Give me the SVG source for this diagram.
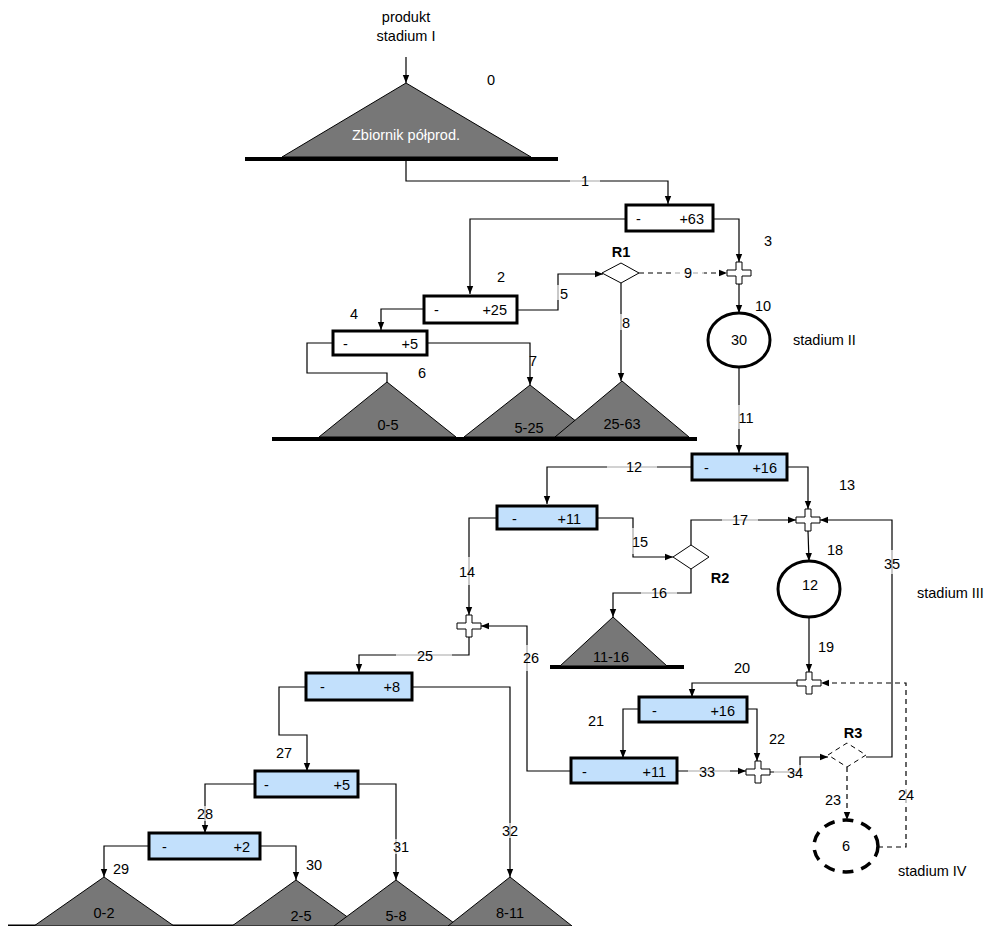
<svg xmlns="http://www.w3.org/2000/svg" width="986" height="926" viewBox="0 0 986 926">
<style>
text{font-family:"Liberation Sans",Arial,sans-serif;font-size:14.5px;fill:#000}
.c{text-anchor:middle}
.e{text-anchor:end}
.b{font-weight:bold}
.w{fill:#fff}
.ln{fill:none;stroke:#000;stroke-width:1.2}
.d{stroke-dasharray:5,4}
.tri{fill:#777;stroke:#000;stroke-width:1}
.base{stroke:#000;stroke-width:4}
.box{fill:#fff;stroke:#000;stroke-width:3}
.bb{fill:#c2e0fc;stroke:#000;stroke-width:3}
.pl{fill:#fff;stroke:#000;stroke-width:1}
.lb{fill:#fff;fill-opacity:0.65}
.st{fill:#fff;stroke:#000;stroke-width:3}
</style>
<defs>
<marker id="a" viewBox="0 0 10 10" refX="10" refY="5" markerWidth="8" markerHeight="8" markerUnits="userSpaceOnUse" orient="auto"><path d="M0,1 L10,5 L0,9 z" fill="#000"/></marker>
<path id="plus" d="M-3,-11 H3 V-3 H12 V3 H3 V11 H-3 V3 H-12 V-3 H-3 Z"/>
</defs>

<!-- base lines -->
<line class="base" x1="245" y1="159" x2="558" y2="159"/>
<line class="base" x1="272" y1="439" x2="697" y2="439"/>
<line class="base" x1="550" y1="667" x2="684" y2="667"/>
<line x1="8" y1="925.5" x2="565" y2="925.5" stroke="#000" stroke-width="2"/>

<g id="connectors">
<path class="ln" d="M406,57 V83" marker-end="url(#a)"/>
<path class="ln" d="M406,161 V181 H668 V204" marker-end="url(#a)"/>
<path class="ln" d="M626,219 H470 V294" marker-end="url(#a)"/>
<path class="ln" d="M713,219 H739 V262" marker-end="url(#a)"/>
<path class="ln" d="M424,309 H381 V330" marker-end="url(#a)"/>
<path class="ln" d="M517,310 H558 V274 H603" marker-end="url(#a)"/>
<path class="ln" d="M333,343 H307 V373 H387 V382"/>
<path class="ln" d="M427,343 H530 V385" marker-end="url(#a)"/>
<path class="ln" d="M621,283 V381" marker-end="url(#a)"/>
<path class="ln d" d="M639,273 H727" marker-end="url(#a)"/>
<path class="ln" d="M739,284 V313" marker-end="url(#a)"/>
<path class="ln" d="M739,367 V453" marker-end="url(#a)"/>
<path class="ln" d="M692,467 H547 V504" marker-end="url(#a)"/>
<path class="ln" d="M787,467 H808 V509" marker-end="url(#a)"/>
<path class="ln" d="M497,518 H469 V615" marker-end="url(#a)"/>
<path class="ln" d="M597,518 H633 V557 H673" marker-end="url(#a)"/>
<path class="ln" d="M691,569 V593 H613 V617" marker-end="url(#a)"/>
<path class="ln" d="M691,545 V520 H796" marker-end="url(#a)"/>
<path class="ln" d="M808,531 L809,561" marker-end="url(#a)"/>
<path class="ln" d="M809,617 V672" marker-end="url(#a)"/>
<path class="ln" d="M797,683 H692 V697" marker-end="url(#a)"/>
<path class="ln" d="M639,709 H623 V758" marker-end="url(#a)"/>
<path class="ln" d="M747,709 H757 V761" marker-end="url(#a)"/>
<path class="ln d" d="M847,767 V820" marker-end="url(#a)"/>
<path class="ln d" d="M878,847 H906 V683 H821" marker-end="url(#a)"/>
<path class="ln" d="M469,637 V655 H359 V672" marker-end="url(#a)"/>
<path class="ln" d="M571,771 H527 V626 H481" marker-end="url(#a)"/>
<path class="ln" d="M306,687 H279 V735 H307 V771" marker-end="url(#a)"/>
<path class="ln" d="M255,784 H205 V833" marker-end="url(#a)"/>
<path class="ln" d="M149,846 H104 V877" marker-end="url(#a)"/>
<path class="ln" d="M260,846 H296 V880" marker-end="url(#a)"/>
<path class="ln" d="M358,784 H396 V880" marker-end="url(#a)"/>
<path class="ln" d="M412,687 H510 V877" marker-end="url(#a)"/>
<path class="ln" d="M677,771 H746" marker-end="url(#a)"/>
<path class="ln" d="M770,772 H800 V757 H828" marker-end="url(#a)"/>
<path class="ln" d="M866,757 H892 V520 H820" marker-end="url(#a)"/>

<!-- labels -->
<rect class="lb" x="570" y="174" width="30" height="15"/><text class="c" x="585" y="186">1</text>
<text class="c" x="501" y="282">2</text>
<text class="c" x="768" y="246">3</text>
<text class="c" x="354" y="319">4</text>
<rect class="lb" x="557" y="285" width="12" height="15"/><text class="c" x="564" y="299">5</text>
<text class="c" x="422" y="378">6</text>
<text class="c" x="533" y="366">7</text>
<rect class="lb" x="620" y="314" width="12" height="16"/><text class="c" x="626" y="328">8</text>
<rect class="lb" x="672" y="266" width="32" height="15"/><text class="c" x="688" y="278">9</text>
<text class="c" x="763" y="311">10</text>
<rect class="lb" x="736" y="405" width="18" height="24"/><text class="c" x="746" y="423">11</text>
<rect class="lb" x="607" y="460" width="50" height="15"/><text class="c" x="634" y="472">12</text>
<text class="c" x="847" y="490">13</text>
<rect class="lb" x="458" y="557" width="20" height="28"/><text class="c" x="467" y="577">14</text>
<rect class="lb" x="630" y="528" width="18" height="26"/><text class="c" x="640" y="547">15</text>
<rect class="lb" x="641" y="586" width="36" height="15"/><text class="c" x="659" y="598">16</text>
<rect class="lb" x="722" y="513" width="36" height="15"/><text class="c" x="740" y="525">17</text>
<text class="c" x="835" y="555">18</text>
<text class="c" x="826" y="652">19</text>
<text class="c" x="742" y="673">20</text>
<text class="c" x="596" y="726">21</text>
<text class="c" x="777" y="744">22</text>
<text class="c" x="833" y="805">23</text>
<rect class="lb" x="897" y="788" width="18" height="15"/><text class="c" x="906" y="800">24</text>
<rect class="lb" x="396" y="648" width="56" height="15"/><text class="c" x="425" y="661">25</text>
<rect class="lb" x="519" y="645" width="18" height="26"/><text class="c" x="531" y="663">26</text>
<text class="c" x="284" y="758">27</text>
<rect class="lb" x="197" y="806" width="16" height="15"/><text class="c" x="205" y="819">28</text>
<text class="c" x="121" y="874">29</text>
<text class="c" x="314" y="870">30</text>
<rect class="lb" x="393" y="839" width="16" height="15"/><text class="c" x="401" y="852">31</text>
<rect class="lb" x="502" y="823" width="16" height="15"/><text class="c" x="510" y="836">32</text>
<rect class="lb" x="688" y="764" width="42" height="15"/><text class="c" x="707" y="777">33</text>
<rect class="lb" x="774" y="765" width="32" height="15"/><text class="c" x="795" y="778">34</text>
<rect class="lb" x="883" y="550" width="18" height="24"/><text class="c" x="892" y="569">35</text>
</g>

<!-- input text -->
<g id="input">
<text class="c" x="406" y="22">produkt</text>
<text class="c" x="406" y="41">stadium I</text>
<text class="c" x="491" y="85">0</text>
</g>

<g id="tank"><polygon class="tri" points="406,83 282,157 531,157"/><text class="c w" x="406" y="140">Zbiornik półprod.</text></g>

<g id="box63"><rect class="box" x="626" y="205" width="87" height="26"/><text x="636" y="224">-</text><text class="e" x="704" y="224">+63</text></g>
<g id="box25"><rect class="box" x="424" y="296" width="93" height="27"/><text x="434" y="315">-</text><text class="e" x="507" y="315">+25</text></g>
<g id="box5a"><rect class="box" x="333" y="331" width="94" height="24"/><text x="343" y="349">-</text><text class="e" x="418" y="349">+5</text></g>

<g id="R1"><polygon class="pl" points="602,273 621,263 639,273 621,283"/><text class="c b" x="621" y="257">R1</text></g>
<g id="plus1"><use href="#plus" class="pl" x="739" y="273"/></g>

<g id="t05"><polygon class="tri" points="387,382 319,437 456,437"/><text class="c" x="388" y="430">0-5</text></g>
<g id="t525"><polygon class="tri" points="530,385 464,437 596,437"/><text class="c" x="529" y="433">5-25</text></g>
<g id="t2563"><polygon class="tri" points="622,381 555,437 689,437"/><text class="c" x="622" y="429">25-63</text></g>

<g id="st30"><ellipse class="st" cx="739" cy="340" rx="31" ry="27"/><text class="c" x="739" y="345">30</text></g>
<text x="793" y="345">stadium II</text>

<g id="box16a"><rect class="bb" x="692" y="454" width="95" height="26"/><text x="704" y="473">-</text><text class="e" x="777" y="473">+16</text></g>
<g id="box11a"><rect class="bb" x="497" y="506" width="100" height="23"/><text x="512" y="524">-</text><text class="e" x="581" y="524">+11</text></g>

<g id="plus2"><use href="#plus" class="pl" x="808" y="520"/></g>
<g id="R2"><polygon class="pl" points="673,557 691,545 709,557 691,569"/><text class="c b" x="720" y="583">R2</text></g>
<g id="plus3"><use href="#plus" class="pl" x="469" y="626"/></g>

<g id="t1116"><polygon class="tri" points="613,617 560,666 667,666"/><text class="c" x="611" y="662">11-16</text></g>

<g id="st12"><ellipse class="st" cx="809" cy="589" rx="31" ry="28"/><text class="c" x="810" y="590">12</text></g>
<text x="917" y="598">stadium III</text>

<g id="plus4"><use href="#plus" class="pl" x="809" y="683"/></g>
<g id="box16b"><rect class="bb" x="639" y="697" width="108" height="25"/><text x="652" y="716">-</text><text class="e" x="735" y="716">+16</text></g>
<g id="box11b"><rect class="bb" x="571" y="758" width="106" height="25"/><text x="582" y="777">-</text><text class="e" x="666" y="777">+11</text></g>
<g id="plus5"><use href="#plus" class="pl" x="758" y="772"/></g>
<g id="R3"><polygon class="pl d" points="828,755 847,743 866,755 847,767"/><text class="c b" x="853" y="738">R3</text></g>

<g id="st6"><ellipse cx="846" cy="846" rx="32" ry="26" fill="#fff" stroke="#000" stroke-width="3.5" stroke-dasharray="11,8"/><text class="c" x="846" y="851">6</text></g>
<text x="898" y="876">stadium IV</text>

<g id="box8"><rect class="bb" x="306" y="673" width="106" height="27"/><text x="320" y="692">-</text><text class="e" x="400" y="692">+8</text></g>
<g id="box5b"><rect class="bb" x="255" y="771" width="103" height="26"/><text x="264" y="790">-</text><text class="e" x="350" y="790">+5</text></g>
<g id="box2"><rect class="bb" x="149" y="833" width="111" height="26"/><text x="162" y="852">-</text><text class="e" x="250" y="852">+2</text></g>

<g id="t02"><polygon class="tri" points="104,877 34,926 174,926"/><text class="c" x="104" y="918">0-2</text></g>
<g id="t25"><polygon class="tri" points="296,880 232,926 360,926"/><text class="c" x="301" y="921">2-5</text></g>
<g id="t58"><polygon class="tri" points="396,880 334,926 458,926"/><text class="c" x="396" y="921">5-8</text></g>
<g id="t811"><polygon class="tri" points="510,877 448,926 572,926"/><text class="c" x="510" y="918">8-11</text></g>
</svg>
